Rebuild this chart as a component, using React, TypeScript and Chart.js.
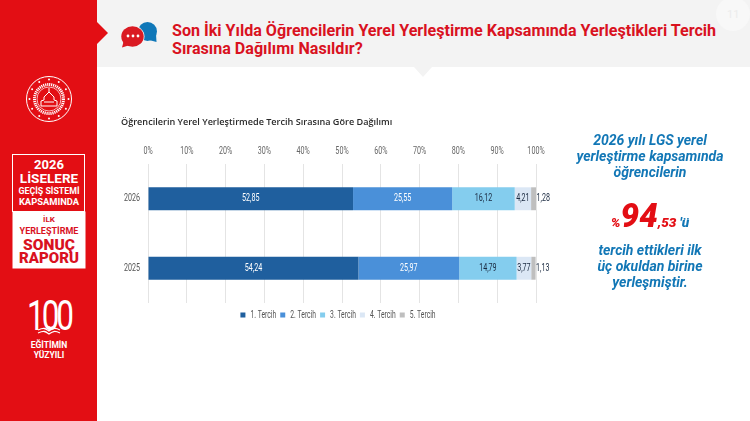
import React, { useEffect, useRef } from "react";
import { Chart, registerables } from "chart.js";

Chart.register(...registerables);

const years = ["2026", "2025"];
const pref1 = [52.85, 54.24];
const pref2 = [25.55, 25.97];
const pref3 = [16.12, 14.79];
const pref4 = [4.21, 3.77];
const pref5 = [1.28, 1.13];
const seriesNames = ["1. Tercih", "2. Tercih", "3. Tercih", "4. Tercih", "5. Tercih"];
const seriesColors = ["#1f5f9e", "#4a90d9", "#84cdee", "#dbe7f5", "#bfbfbf"];
const labelColors = ["#ffffff", "#ffffff", "#1a2a40", "#1a2a40", "#1a2a40"];

const NARROW = "Roboto, sans-serif";
const SQUEEZE = 0.68;

// No condensed face is installed, so Roboto text on this canvas is squeezed horizontally.
const condensed = {
  id: "condensed",
  beforeInit(chart: any) {
    const ctx = chart.ctx;
    const fill = ctx.fillText.bind(ctx);
    const measure = ctx.measureText.bind(ctx);
    ctx.fillText = (t: string, x: number, y: number) => {
      if (!ctx.font.includes("Roboto")) return fill(t, x, y);
      ctx.save();
      ctx.translate(x, y);
      ctx.scale(SQUEEZE, 1);
      fill(t, 0, 0);
      ctx.restore();
    };
    ctx.measureText = (t: string) => {
      const w = measure(t).width;
      return { width: ctx.font.includes("Roboto") ? w * SQUEEZE : w };
    };
  },
};

// The legend sits centred on the whole canvas, not on the plot area.
const legendShift = {
  id: "legendShift",
  afterLayout(chart: any) {
    const l = chart.legend;
    l.left += 9.5;
    l.right += 9.5;
    l.top += 3;
    l.bottom += 3;
  },
};

const valueLabels = {
  id: "valueLabels",
  afterDatasetsDraw(chart: any) {
    const { ctx } = chart;
    ctx.save();
    ctx.font = `10.5px ${NARROW}`;
    ctx.textBaseline = "middle";
    chart.data.datasets.forEach((ds: any, i: number) => {
      chart.getDatasetMeta(i).data.forEach((bar: any, j: number) => {
        const text = String(ds.data[j]).replace(".", ",").padEnd(4, "0");
        const outside = i === 4;
        ctx.fillStyle = labelColors[i];
        ctx.textAlign = outside ? "left" : "center";
        const x = outside ? bar.x + 0.5 : (bar.x + bar.base) / 2;
        ctx.fillText(text, x, bar.y);
      });
    });
    ctx.restore();
  },
};

const abs = (s: React.CSSProperties): React.CSSProperties => ({ position: "absolute", ...s });

function Center({ y, size, children, color = "#fff", weight = 700, x = 49, ls = 0 }: any) {
  return (
    <div style={abs({ left: x - 60, width: 120, top: y - 10, height: 20, lineHeight: "20px", textAlign: "center", fontSize: size, fontWeight: weight, color, fontFamily: "Roboto, sans-serif", letterSpacing: ls, whiteSpace: "nowrap" })}>
      {children}
    </div>
  );
}

function Side({ y, children }: any) {
  return (
    <div style={abs({ left: 550, width: 200, top: y - 10, height: 20, lineHeight: "20px", textAlign: "center", fontSize: 14, fontWeight: 700, fontStyle: "italic", color: "#1277b6", fontFamily: "Roboto, sans-serif", whiteSpace: "nowrap" })}>
      {children}
    </div>
  );
}

export default function App() {
  const ref = useRef<HTMLCanvasElement>(null);
  useEffect(() => {
    document.body.style.margin = "0";
    const series = [pref1, pref2, pref3, pref4, pref5];
    const chart = new Chart(ref.current!, {
      type: "bar",
      data: {
        labels: years,
        datasets: series.map((data, i) => ({
          label: seriesNames[i],
          data,
          backgroundColor: seriesColors[i],
          borderWidth: 0,
          barPercentage: 0.33,
          categoryPercentage: 1,
        })),
      },
      plugins: [condensed, legendShift, valueLabels],
      options: {
        indexAxis: "y",
        animation: false,
        responsive: false,
        layout: { padding: { right: 20, top: 0, bottom: 0 } },
        plugins: {
          tooltip: { enabled: false },
          title: {
            display: true,
            text: "Öğrencilerin Yerel Yerleştirmede Tercih Sırasına Göre Dağılımı",
            align: "start",
            color: "#2a2a2a",
            font: { family: '"Open Sans", sans-serif', size: 9.1, weight: "600" },
            padding: { top: 9, bottom: 11.5 },
          },
          legend: {
            position: "bottom",
            align: "center",
            labels: {
              boxWidth: 5,
              boxHeight: 5,
              padding: 4,
              color: "#555",
              font: { family: NARROW, size: 10 },
            },
          },
        },
        scales: {
          x: {
            position: "top",
            stacked: true,
            min: 0,
            max: 100,
            border: { display: false },
            grid: { color: "#e4e4e4", drawTicks: false },
            ticks: {
              stepSize: 10,
              padding: 6,
              color: "#666",
              font: { family: NARROW, size: 10.5 },
              callback: (v: any) => `${v}%`,
            },
          },
          y: {
            stacked: true,
            border: { display: false },
            grid: { display: false, drawTicks: false },
            afterFit: (s: any) => { s.width = 27; },
            ticks: { color: "#555", padding: 8, font: { family: NARROW, size: 10.5 } },
          },
        },
      },
    } as any);
    return () => chart.destroy();
  }, []);

  return (
    <div style={{ position: "relative", width: 750, height: 421, overflow: "hidden", background: "#fff", fontFamily: "Roboto, sans-serif" }}>
      <div style={abs({ left: 97, top: 0, width: 653, height: 67, background: "#f3f3f3" })} />
      <svg width={750} height={90} style={abs({ left: 0, top: 0 })}>
        <polygon points="414,67 432,67 423,77" fill="#f3f3f3" />
        <circle cx={733} cy={14} r={17} fill="#f8f8f8" />
        <circle cx={147.5} cy={31.5} r={9.5} fill="#0f77b8" />
        <polygon points="150,36 156,34 156.5,42 149,40" fill="#0f77b8" />
        <ellipse cx={132.5} cy={36.5} rx={12} ry={11} fill="#f3f3f3" />
        <ellipse cx={132.5} cy={36.5} rx={11.2} ry={10.2} fill="#da1a22" />
        <polygon points="124,40 130,45 122,47.5" fill="#da1a22" />
        <circle cx={128} cy={36} r={1.4} fill="#fff" /><circle cx={133} cy={36} r={1.4} fill="#fff" /><circle cx={138} cy={36} r={1.4} fill="#fff" />
      </svg>
      <div style={abs({ left: 727, top: 8, width: 12, textAlign: "center", fontSize: 11, color: "#ececec" })}>11</div>
      <div style={abs({ left: 172, top: 22, width: 575, fontSize: 16.1, lineHeight: "18px", fontWeight: 700, color: "#d9121f", whiteSpace: "nowrap" })}>
        Son İki Yılda Öğrencilerin Yerel Yerleştirme Kapsamında Yerleştikleri Tercih<br />Sırasına Dağılımı Nasıldır?
      </div>

      <div style={abs({ left: 0, top: 0, width: 97, height: 421, background: "#e30e14" })} />
      <svg width={120} height={421} style={abs({ left: 0, top: 0 })}>
        <polygon points="97,22 108,33 97,44" fill="#e30e14" />
        <circle cx={49} cy={99} r={22.5} fill="none" stroke="#fff" strokeWidth={1} />
        <circle cx={49} cy={99} r={14.5} fill="none" stroke="#fff" strokeWidth={3} strokeDasharray="1.2 0.8" />
        <circle cx={49} cy={99} r={12} fill="none" stroke="#fff" strokeWidth={0.7} />
        <path d="M41 106h16v-5l-3-1v-3l-5-5-5 5v3l-3 1zM44 102h10M49 92v-4" fill="none" stroke="#fff" strokeWidth={1} />
        {[0, 30, 60, 90, 120, 150, 180, 210, 240, 270, 300, 330].map((a) => (
          <circle key={a} cx={49 + 19.5 * Math.cos((a * Math.PI) / 180)} cy={99 + 19.5 * Math.sin((a * Math.PI) / 180)} r={1} fill="#fff" />
        ))}
        <rect x={12.5} y={154.5} width={72} height={57} fill="none" stroke="#fff" strokeWidth={1} />
        <rect x={12.5} y={211.5} width={73} height={57} fill="#fff" />
        <path d="M38 333c7-3 8-1 11 1 3-2 5-4 11-1M38 330c7-3 8-1 11 1 3-2 5-4 11-1M49 330v-4" fill="none" stroke="#fff" strokeWidth={1.3} />
      </svg>
      <Center y={165} size={13}>2026</Center>
      <Center y={178} size={13.5}>LİSELERE</Center>
      <Center y={191} size={8.8}>GEÇİŞ SİSTEMİ</Center>
      <Center y={202} size={9.4}>KAPSAMINDA</Center>
      <Center y={220} size={8} color="#d9121f">İLK</Center>
      <Center y={231} size={9} color="#d9121f">YERLEŞTİRME</Center>
      <Center y={245} size={15.5} color="#d9121f" weight={900}>SONUÇ</Center>
      <Center y={258} size={15} color="#d9121f" weight={900}>RAPORU</Center>
      <div style={abs({ left: 19, width: 60, top: 296, height: 40, lineHeight: "40px", textAlign: "center", fontSize: 42, fontWeight: 400, color: "#fff", letterSpacing: -4, transform: "scaleX(0.75)" })}>100</div>
      <Center y={345} size={8.5}>EĞİTİMİN</Center>
      <Center y={355} size={8.5}>YÜZYILI</Center>

      <canvas ref={ref} width={435} height={219} style={abs({ left: 121, top: 108, width: 435, height: 219 })} />

      <Side y={140}>2026 yılı LGS yerel</Side>
      <Side y={156}>yerleştirme kapsamında</Side>
      <Side y={172}>öğrencilerin</Side>
      <div style={abs({ left: 550, width: 200, top: 191, height: 50, lineHeight: "50px", textAlign: "center", fontStyle: "italic", fontWeight: 900, whiteSpace: "nowrap", color: "#e30e14" })}>
        <span style={{ fontSize: 13.5 }}>%</span>
        <span style={{ fontSize: 33 }}>94</span>
        <span style={{ fontSize: 13.5 }}>,53</span>
        <span style={{ fontSize: 13.5, color: "#1277b6" }}> ′ü</span>
      </div>
      <Side y={250}>tercih ettikleri ilk</Side>
      <Side y={266}>üç okuldan birine</Side>
      <Side y={282}>yerleşmiştir.</Side>
    </div>
  );
}
